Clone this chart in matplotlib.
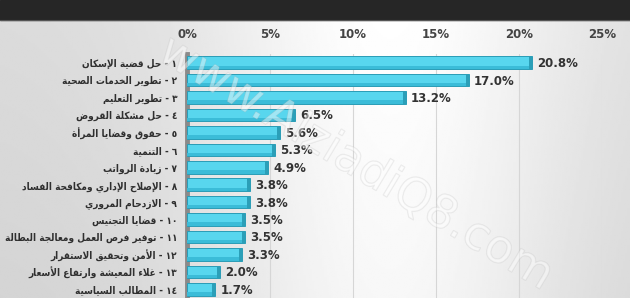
import numpy as np
import matplotlib
matplotlib.use("Agg")
import matplotlib.pyplot as plt
import matplotlib.patheffects as pe
from matplotlib import font_manager as fm

# data (logical order, Arabic)
labels = [
    "١ - حل قضية الإسكان",
    "٢ - تطوير الخدمات الصحية",
    "٣ - تطوير التعليم",
    "٤ - حل مشكلة القروض",
    "٥ - حقوق وقضايا المرأة",
    "٦ - التنمية",
    "٧ - زيادة الرواتب",
    "٨ - الإصلاح الإداري ومكافحة الفساد",
    "٩ - الازدحام المروري",
    "١٠ - قضايا التجنيس",
    "١١ - توفير فرص العمل ومعالجة البطالة",
    "١٢ - الأمن وتحقيق الاستقرار",
    "١٣ - غلاء المعيشة وارتفاع الأسعار",
    "١٤ - المطالب السياسية",
]
values = [20.8, 17.0, 13.2, 6.5, 5.6, 5.3, 4.9, 3.8, 3.8, 3.5, 3.5, 3.3, 2.0, 1.7]
xticks = [0, 5, 10, 15, 20, 25]

# --- minimal Arabic shaping (matplotlib has no complex text layout) ---
# base: (isolated, final, initial, medial) or (isolated, final) for right-joining
_forms = {
    "ء": (0xFE80,), "آ": (0xFE81, 0xFE82), "أ": (0xFE83, 0xFE84), "ؤ": (0xFE85, 0xFE86),
    "إ": (0xFE87, 0xFE88), "ئ": (0xFE89, 0xFE8A, 0xFE8B, 0xFE8C), "ا": (0xFE8D, 0xFE8E),
    "ب": (0xFE8F, 0xFE90, 0xFE91, 0xFE92), "ة": (0xFE93, 0xFE94),
    "ت": (0xFE95, 0xFE96, 0xFE97, 0xFE98), "ث": (0xFE99, 0xFE9A, 0xFE9B, 0xFE9C),
    "ج": (0xFE9D, 0xFE9E, 0xFE9F, 0xFEA0), "ح": (0xFEA1, 0xFEA2, 0xFEA3, 0xFEA4),
    "خ": (0xFEA5, 0xFEA6, 0xFEA7, 0xFEA8), "د": (0xFEA9, 0xFEAA), "ذ": (0xFEAB, 0xFEAC),
    "ر": (0xFEAD, 0xFEAE), "ز": (0xFEAF, 0xFEB0),
    "س": (0xFEB1, 0xFEB2, 0xFEB3, 0xFEB4), "ش": (0xFEB5, 0xFEB6, 0xFEB7, 0xFEB8),
    "ص": (0xFEB9, 0xFEBA, 0xFEBB, 0xFEBC), "ض": (0xFEBD, 0xFEBE, 0xFEBF, 0xFEC0),
    "ط": (0xFEC1, 0xFEC2, 0xFEC3, 0xFEC4), "ظ": (0xFEC5, 0xFEC6, 0xFEC7, 0xFEC8),
    "ع": (0xFEC9, 0xFECA, 0xFECB, 0xFECC), "غ": (0xFECD, 0xFECE, 0xFECF, 0xFED0),
    "ف": (0xFED1, 0xFED2, 0xFED3, 0xFED4), "ق": (0xFED5, 0xFED6, 0xFED7, 0xFED8),
    "ك": (0xFED9, 0xFEDA, 0xFEDB, 0xFEDC), "ل": (0xFEDD, 0xFEDE, 0xFEDF, 0xFEE0),
    "م": (0xFEE1, 0xFEE2, 0xFEE3, 0xFEE4), "ن": (0xFEE5, 0xFEE6, 0xFEE7, 0xFEE8),
    "ه": (0xFEE9, 0xFEEA, 0xFEEB, 0xFEEC), "و": (0xFEED, 0xFEEE), "ى": (0xFEEF, 0xFEF0),
    "ي": (0xFEF1, 0xFEF2, 0xFEF3, 0xFEF4),
    # lam-alef ligatures (placeholders below)
    "\uE001": (0xFEF5, 0xFEF6), "\uE002": (0xFEF7, 0xFEF8),
    "\uE003": (0xFEF9, 0xFEFA), "\uE004": (0xFEFB, 0xFEFC),
}
_ligs = {"لآ": "\uE001", "لأ": "\uE002", "لإ": "\uE003", "لا": "\uE004"}


def shape_ar(s):
    for k, v in _ligs.items():
        s = s.replace(k, v)
    out = []
    for i, ch in enumerate(s):
        f = _forms.get(ch)
        if f is None:
            out.append(ch)
            continue
        prev = s[i - 1] if i > 0 else ""
        nxt = s[i + 1] if i + 1 < len(s) else ""
        join_prev = len(f) > 1 and len(_forms.get(prev, ())) == 4
        join_next = len(f) == 4 and nxt in _forms
        if join_prev and join_next:
            out.append(chr(f[3]))
        elif join_prev:
            out.append(chr(f[1]))
        elif join_next:
            out.append(chr(f[2]))
        else:
            out.append(chr(f[0]))
    vis = "".join(out)[::-1]
    # keep digit runs left-to-right
    res, run = [], []
    for ch in vis:
        if "\u0660" <= ch <= "\u0669":
            run.append(ch)
        else:
            res.extend(run[::-1])
            run = []
            res.append(ch)
    res.extend(run[::-1])
    return "".join(res)


label_font = fm.FontProperties(family="DejaVu Sans", weight="bold", stretch="condensed", size=7.2)

fig = plt.figure(figsize=(6.30, 2.98), dpi=100)

# background: light gray gradient with dark band on top
bg = fig.add_axes([0, 0, 1, 1], zorder=-10)
gx = np.linspace(0, 1, 300)
gy = np.linspace(0, 1, 150)
X, Y = np.meshgrid(gx, gy)
shade = 0.86 + 0.14 * np.exp(-((X - 0.62) ** 2) / 0.09) - 0.03 * Y
bg.imshow(shade, cmap="gray", vmin=0, vmax=1, extent=[0, 1, 0, 1], aspect="auto")
bg.axhspan(1 - 20 / 298, 1, color="#262626")
bg.axhline(1 - 20 / 298, color="#555555", lw=0.8)
bg.set_xlim(0, 1)
bg.set_ylim(0, 1)
bg.axis("off")

ax = fig.add_axes([187 / 630, 0.0, 415 / 630, 244 / 298])
ax.patch.set_alpha(0)

ypos = np.arange(len(values))
ax.barh(ypos, values, height=0.72, color="#58d6ee", edgecolor="#2a9cb6", linewidth=0.7, zorder=3)
# darker 3D end cap and bottom shade
ax.barh(ypos, [0.18] * len(values), left=[v - 0.18 for v in values], height=0.72,
        color="#2b9fb8", linewidth=0, zorder=4)
ax.barh(ypos + 0.26, values, height=0.2, color="#3bbcd8", linewidth=0, zorder=3.5)

for y, v in zip(ypos, values):
    ax.text(v + 0.3, y + 0.05, f"{v:.1f}%", va="center", ha="left", fontsize=8.5,
            fontweight="bold", color="#333333", zorder=5)

ax.set_xlim(0, 25)
ax.set_ylim(len(values) - 0.5, -0.5)
ax.set_xticks(xticks)
ax.set_xticklabels([f"{t}%" for t in xticks], fontsize=8.5, fontweight="bold", color="#444444")
ax.xaxis.tick_top()
ax.tick_params(axis="x", length=0, pad=9)
ax.set_yticks(ypos)
ax.set_yticklabels([shape_ar(s) for s in labels], fontproperties=label_font, color="#2f2f2f")
ax.tick_params(axis="y", length=0, pad=7)
ax.grid(axis="x", color="#d6d6d6", lw=0.8, zorder=0)
for sp in ["top", "right", "bottom"]:
    ax.spines[sp].set_visible(False)
ax.spines["left"].set_color("#8a8a8a")
ax.spines["left"].set_linewidth(3.5)

# watermark
fig.text(0.565, 0.45, "www.AlziadiQ8.com", rotation=-31, ha="center", va="center",
         fontsize=33, color="#ffffff", alpha=0.25, zorder=20,
         path_effects=[pe.withStroke(linewidth=0.9, foreground="#b8b8b8")])

fig.savefig("out.png", dpi=100)
